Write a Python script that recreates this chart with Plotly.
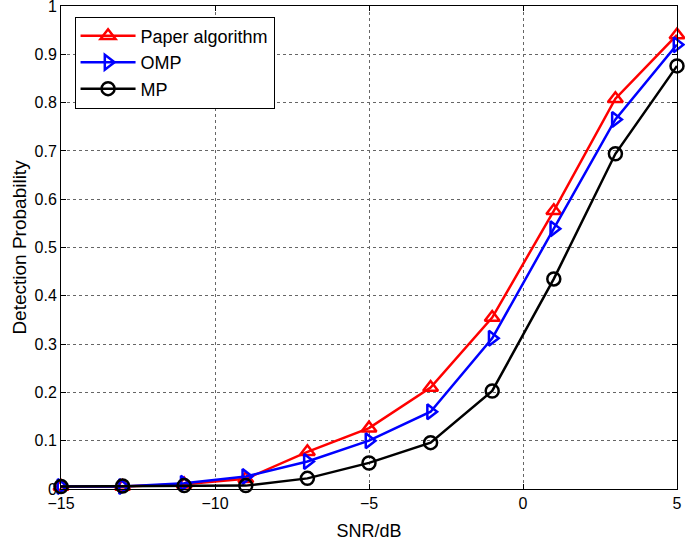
import plotly.graph_objects as go

snr = [-15, -13, -11, -9, -7, -5, -3, -1, 1, 3, 5]
paper = [0.005, 0.005, 0.010, 0.021, 0.077, 0.126, 0.210, 0.355, 0.576, 0.808, 0.940]
omp = [0.005, 0.005, 0.012, 0.026, 0.057, 0.100, 0.160, 0.312, 0.539, 0.765, 0.920]
mp = [0.005, 0.006, 0.007, 0.007, 0.022, 0.054, 0.096, 0.203, 0.435, 0.694, 0.876]

x_ticks = [-15, -10, -5, 0, 5]
y_ticks = [0, 0.1, 0.2, 0.3, 0.4, 0.5, 0.6, 0.7, 0.8, 0.9, 1]
y_tick_labels = ["0", "0.1", "0.2", "0.3", "0.4", "0.5", "0.6", "0.7", "0.8", "0.9", "1"]

FONT = "Liberation Sans, Arial, Helvetica"

fig = go.Figure()
series = [
    ("Paper algorithm", paper, "#ff0000", "triangle-up-open"),
    ("OMP", omp, "#0000ff", "triangle-right-open"),
    ("MP", mp, "#000000", "circle-open"),
]
for name, ys, color, sym in series:
    fig.add_trace(go.Scatter(
        x=snr, y=ys, name=name, mode="lines+markers",
        line=dict(color=color, width=2.5),
        marker=dict(symbol=sym, size=13, color=color, line=dict(color=color, width=2.5)),
        cliponaxis=False,
    ))

axis_common = dict(
    showline=True, linecolor="black", linewidth=1, mirror="ticks",
    ticks="inside", ticklen=5, tickcolor="black",
    showgrid=True, gridcolor="#666666", griddash="dot", gridwidth=1,
    zeroline=False, ticklabeloverflow="allow", automargin=False,
    tickfont=dict(family=FONT, size=16, color="black"),
)

fig.update_xaxes(range=[-15, 5], tickvals=x_ticks,
                 title=dict(text="SNR/dB", font=dict(family=FONT, size=18, color="black"), standoff=14),
                 **axis_common)
fig.update_yaxes(range=[0, 1], tickvals=y_ticks, ticktext=y_tick_labels,
                 title=dict(text="Detection Probability", font=dict(family=FONT, size=19, color="black"), standoff=2),
                 **axis_common)

fig.update_layout(
    width=685, height=541,
    margin=dict(l=61, r=8, t=6, b=52),
    plot_bgcolor="white", paper_bgcolor="white",
    showlegend=True,
    legend=dict(x=0.022, y=0.978, xanchor="left", yanchor="top",
                bgcolor="white", bordercolor="black", borderwidth=1,
                font=dict(family=FONT, size=18, color="black"),
                tracegroupgap=0, itemwidth=55),
)

fig.write_html("out.html", config={"displayModeBar": False},
               post_script="document.body.style.margin='0';document.body.style.overflow='hidden';")
